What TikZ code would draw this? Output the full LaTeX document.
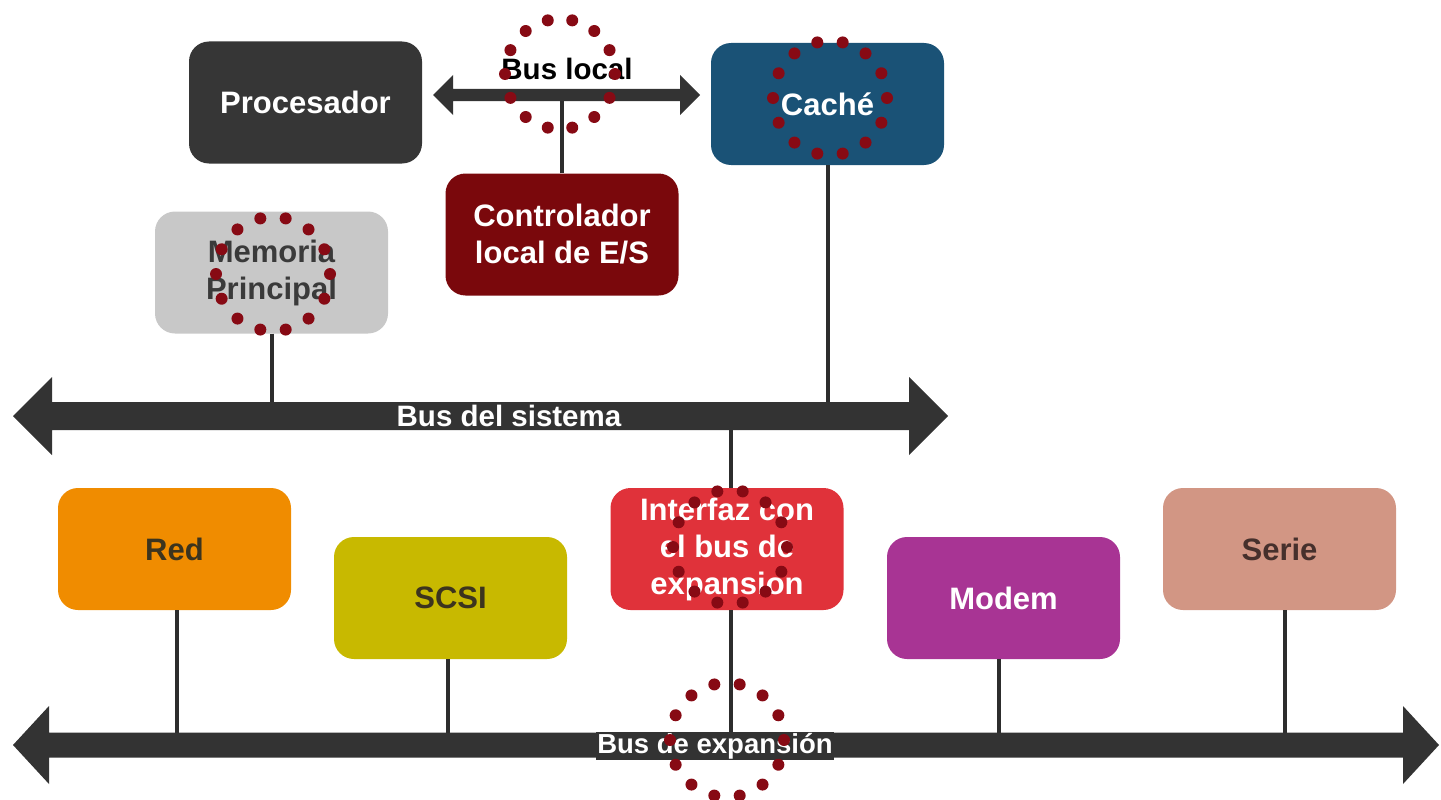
\documentclass[tikz,border=0pt]{standalone}
\usepackage{fontspec}
\setmainfont{Liberation Sans}
\usetikzlibrary{calc}

\definecolor{busgrey}{RGB}{51,51,51}
\definecolor{wiregrey}{RGB}{45,45,45}
\definecolor{procgrey}{RGB}{54,54,54}
\definecolor{cacheblue}{RGB}{26,82,118}
\definecolor{ctrlred}{RGB}{122,8,12}
\definecolor{memgrey}{RGB}{200,200,200}
\definecolor{memtext}{RGB}{58,58,58}
\definecolor{redorange}{RGB}{240,140,0}
\definecolor{scsiolive}{RGB}{200,185,0}
\definecolor{darktext}{RGB}{60,52,30}
\definecolor{ifred}{RGB}{224,50,58}
\definecolor{modempurple}{RGB}{168,52,148}
\definecolor{seriesalmon}{RGB}{210,150,132}
\definecolor{serietext}{RGB}{70,48,44}
\definecolor{ringred}{RGB}{135,10,20}

% double-headed bus bar: left tip x, right tip x, y, half shaft, half head, head length
\newcommand\busbar[6]{%
  \fill[busgrey] (#1,#3) -- (#1+#6,#3-#5) -- (#1+#6,#3-#4) -- (#2-#6,#3-#4)
    -- (#2-#6,#3-#5) -- (#2,#3) -- (#2-#6,#3+#5) -- (#2-#6,#3+#4)
    -- (#1+#6,#3+#4) -- (#1+#6,#3+#5) -- cycle;}

% ring of fourteen dots around a point
\newcommand\dotring[2]{%
  \foreach \k in {0,...,13}
    \fill[ringred] (#1) ++({102.857+25.714*\k}:#2) circle (6);}

\tikzset{
  unit/.style={rounded corners=20pt, minimum width=233pt, minimum height=122pt,
    align=center, inner sep=0pt, font=\bfseries\fontsize{31}{37}\selectfont},
  wire/.style={draw=wiregrey, line width=4pt},
  buslabel/.style={font=\bfseries\fontsize{29.5}{34}\selectfont, inner sep=1pt},
}

\begin{document}
\begin{tikzpicture}[x=1pt,y=-1pt]
\useasboundingbox (0,0) rectangle (1441,800);

% bus centre lines
\coordinate (lbus) at (566,95);
\coordinate (sbus) at (480,416);
\coordinate (ebus) at (720,745);

% units
\node[unit, fill=procgrey, text=white] (proc) at (305.5,102.5) {Procesador};
\node[unit, fill=cacheblue, text=white] (cache) at (827.5,104) {Caché};
\node[unit, fill=ctrlred, text=white] (ctrl) at (562,234.5) {Controlador\\local de E/S};
\node[unit, fill=memgrey, text=memtext] (mem) at (271.5,272.5) {Memoria\\Principal};
\node[unit, fill=redorange, text=darktext] (red) at (174.5,549) {Red};
\node[unit, fill=scsiolive, text=darktext] (scsi) at (450.5,598) {SCSI};
\node[unit, fill=ifred, text=white] (iface) at (727,549) {Interfaz con\\el bus de\\expansion};
\node[unit, fill=modempurple, text=white] (modem) at (1003.5,598) {Modem};
\node[unit, fill=seriesalmon, text=serietext] (serie) at (1279.5,549) {Serie};

% taps onto the buses
\draw[wire] (ctrl.north) -- (ctrl.north |- lbus);
\draw[wire] (mem.south) -- (mem.south |- sbus);
\draw[wire] (cache.south) -- (cache.south |- sbus);
\draw[wire] ([xshift=4pt]iface.north) -- ([xshift=4pt]iface.north |- sbus);
\draw[wire] ([xshift=4pt]iface.south) -- ([xshift=4pt]iface.south |- ebus);
\draw[wire] ([xshift=2.5pt]red.south) -- ([xshift=2.5pt]red.south |- ebus);
\draw[wire] ([xshift=-2.5pt]scsi.south) -- ([xshift=-2.5pt]scsi.south |- ebus);
\draw[wire] ([xshift=-4.5pt]modem.south) -- ([xshift=-4.5pt]modem.south |- ebus);
\draw[wire] ([xshift=5.5pt]serie.south) -- ([xshift=5.5pt]serie.south |- ebus);

% buses
\busbar{433}{700}{95}{6}{20}{20}
\busbar{13}{948}{416}{14}{39}{39}
\busbar{13}{1439}{745}{12.5}{39}{36}

% bus labels
\node[buslabel, text=black] (lbl) at (567,69) {Bus local};
\node[buslabel, fill=busgrey, text=white] (sbl) at (509,416) {Bus del sistema};
\node[buslabel, fill=busgrey, text=white, font=\bfseries\fontsize{27.5}{32}\selectfont] (ebl) at (715,746) {Bus de expansión};

% dotted rings
\dotring{560,74}{55}
\dotring{830,98}{57}
\dotring{273,274}{57}
\dotring{730,547}{57}
\dotring{727,740}{57}
\end{tikzpicture}
\end{document}
